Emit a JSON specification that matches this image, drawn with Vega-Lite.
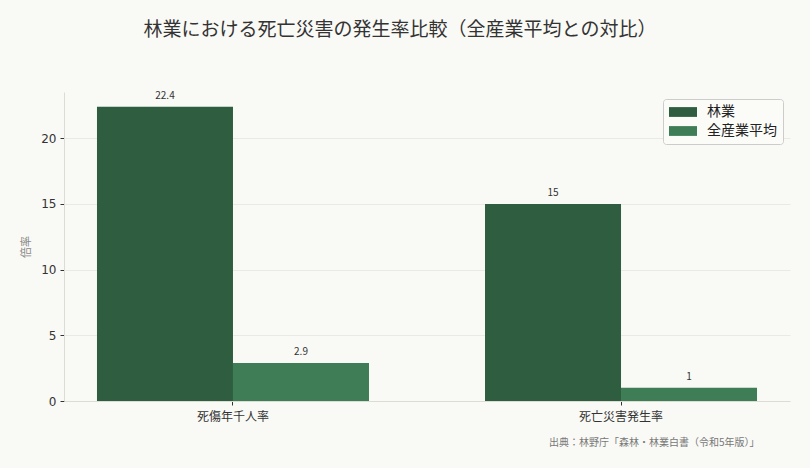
{
  "$schema": "https://vega.github.io/schema/vega-lite/v6.json",
  "width": 726,
  "height": 309,
  "autosize": "none",
  "padding": {"left": 64, "top": 92, "right": 20, "bottom": 67},
  "background": "#f9f9f5",
  "title": {
    "text": "林業における死亡災害の発生率比較（全産業平均との対比）",
    "font": "Noto Sans CJK JP",
    "fontSize": 19,
    "fontWeight": "normal",
    "color": "#333333",
    "anchor": "middle",
    "dx": -27,
    "offset": 51
  },
  "data": {
    "values": [
      {"category": "死傷年千人率", "series": "林業", "value": 22.4},
      {"category": "死傷年千人率", "series": "全産業平均", "value": 2.9},
      {"category": "死亡災害発生率", "series": "林業", "value": 15},
      {"category": "死亡災害発生率", "series": "全産業平均", "value": 1}
    ]
  },
  "encoding": {
    "x": {
      "field": "category",
      "type": "nominal",
      "sort": ["死傷年千人率", "死亡災害発生率"],
      "scale": {"paddingInner": 0.299, "paddingOuter": 0.085},
      "axis": {
        "title": "出典：林野庁「森林・林業白書（令和5年版）」",
        "titleFont": "Noto Sans CJK JP",
        "titleFontSize": 10,
        "titleFontWeight": "normal",
        "titleColor": "#777777",
        "titleAlign": "right",
        "titleAnchor": null,
        "titleX": 695,
        "titleY": 41,
        "titleBaseline": "middle",
        "labelAngle": 0,
        "labelFont": "Noto Sans CJK JP",
        "labelFontSize": 12,
        "labelColor": "#333333",
        "labelPadding": 6,
        "domainColor": "#dcdcd4",
        "tickColor": "#333333",
        "tickSize": 4
      }
    },
    "xOffset": {"field": "series", "type": "nominal", "sort": ["林業", "全産業平均"]},
    "y": {
      "field": "value",
      "type": "quantitative",
      "scale": {"domain": [0, 23.52], "nice": false},
      "axis": {
        "title": "倍率",
        "titleFont": "Noto Sans CJK JP",
        "titleFontSize": 11,
        "titleFontWeight": "normal",
        "titleColor": "#888888",
        "titlePadding": 9,
        "values": [0, 5, 10, 15, 20],
        "labelFont": "DejaVu Sans",
        "labelFontSize": 12,
        "labelColor": "#333333",
        "labelPadding": 4,
        "domainColor": "#dcdcd4",
        "tickColor": "#333333",
        "tickSize": 4,
        "grid": true,
        "gridColor": "#e6e6e0",
        "gridWidth": 0.8
      }
    }
  },
  "layer": [
    {
      "mark": {"type": "bar"},
      "encoding": {
        "color": {
          "field": "series",
          "type": "nominal",
          "sort": ["林業", "全産業平均"],
          "scale": {"domain": ["林業", "全産業平均"], "range": ["#2e5e3f", "#3e7d55"]},
          "legend": {
            "title": null,
            "orient": "top-right",
            "offset": 7,
            "labelFont": "Noto Sans CJK JP",
            "labelFontSize": 14,
            "labelColor": "#222222",
            "symbolType": "M-1,-0.7H3V0.7H-1Z",
            "symbolSize": 196,
            "symbolStrokeWidth": 0,
            "symbolOpacity": 1,
            "rowPadding": 5,
            "labelOffset": 24,
            "padding": 6,
            "fillColor": "#fbfbf8",
            "strokeColor": "#cccccc",
            "cornerRadius": 3
          }
        }
      }
    },
    {
      "mark": {
        "type": "text",
        "baseline": "bottom",
        "dy": -6,
        "font": "Noto Sans CJK JP",
        "fontSize": 10,
        "color": "#333333"
      },
      "encoding": {"text": {"field": "value", "type": "quantitative"}}
    }
  ],
  "config": {
    "view": {"stroke": null},
    "axis": {"domainWidth": 1}
  }
}
